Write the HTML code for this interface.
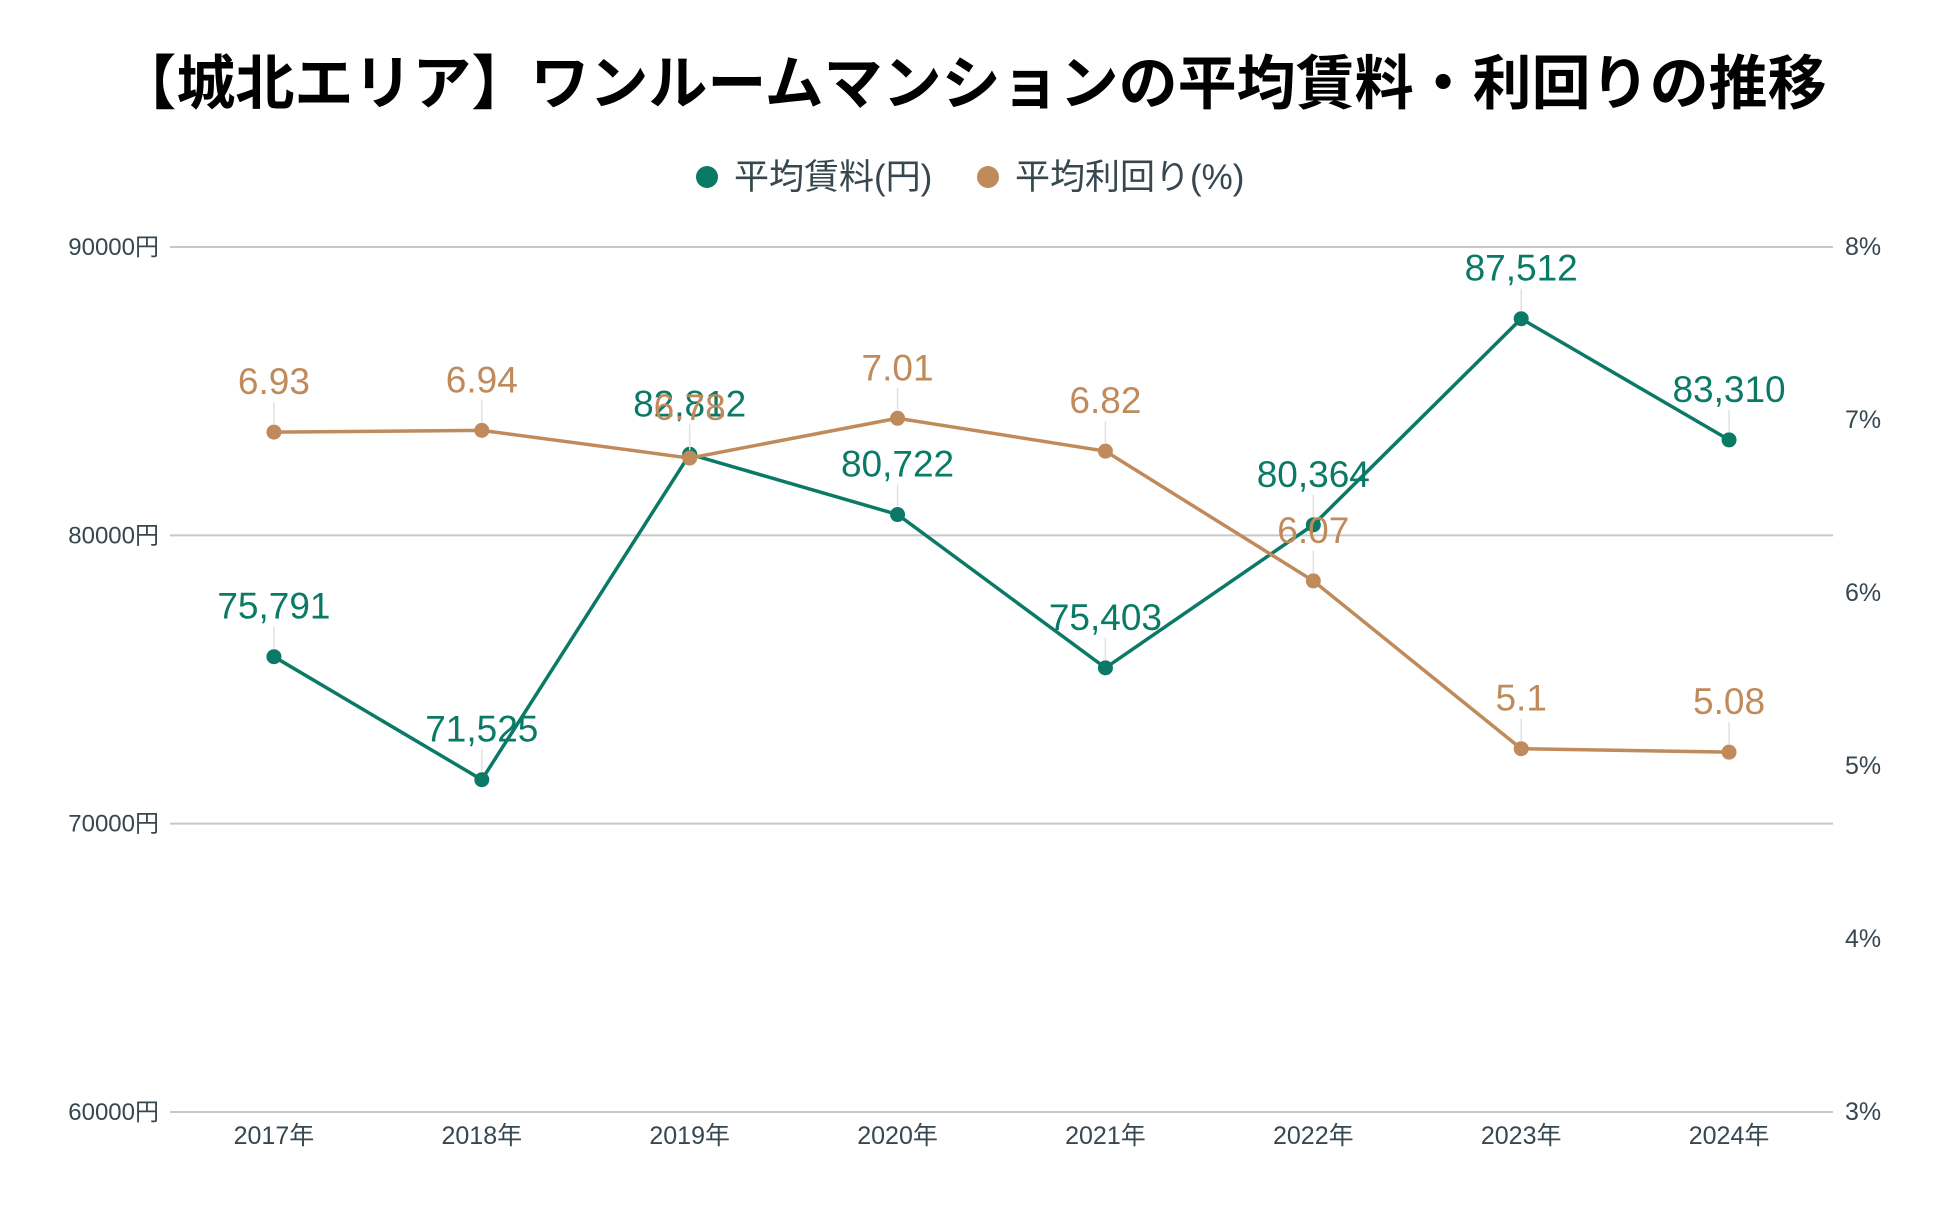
<!DOCTYPE html>
<html><head><meta charset="utf-8"><style>
body{margin:0;background:#fff;}
svg{display:block;font-family:"Liberation Sans","Noto Sans CJK JP",sans-serif;}
</style></head><body>
<svg id="chart" width="1950" height="1207" viewBox="0 0 1950 1207" xmlns="http://www.w3.org/2000/svg">
<text x="972" y="104" text-anchor="middle" font-size="59" font-weight="bold" fill="#000">【城北エリア】ワンルームマンションの平均賃料・利回りの推移</text>
<g>
<circle cx="707" cy="177" r="11" fill="#0a7a66"/>
<text x="734" y="189" font-size="35" fill="#37474f">平均賃料(円)</text>
<circle cx="988" cy="177" r="11" fill="#c08a5a"/>
<text x="1015" y="189" font-size="35" fill="#37474f">平均利回り(%)</text>
</g>
<g id="grid"></g>
<g id="axes"></g>
<g id="series"></g>
</svg>
<script>
const categories=["2017年","2018年","2019年","2020年","2021年","2022年","2023年","2024年"];
const rent=[75791,71525,82812,80722,75403,80364,87512,83310];
const rentLabels=["75,791","71,525","82,812","80,722","75,403","80,364","87,512","83,310"];
const yieldVals=[6.93,6.94,6.78,7.01,6.82,6.07,5.1,5.08];
const yieldLabels=["6.93","6.94","6.78","7.01","6.82","6.07","5.1","5.08"];
const leftTicks=[60000,70000,80000,90000];
const rightTicks=[3,4,5,6,7,8];

const NS="http://www.w3.org/2000/svg";
const X0=170,X1=1833,Y0=1112,Y1=247;
function xs(i){return X0+(X1-X0)/categories.length*(i+0.5);}
function yl(v){return Y0-(v-60000)/30000*(Y0-Y1);}
function yr(v){return Y0-(v-3)/5*(Y0-Y1);}
function mk(tag,attrs,parent){const e=document.createElementNS(NS,tag);for(const k in attrs)e.setAttribute(k,attrs[k]);parent.appendChild(e);return e;}
const grid=document.getElementById('grid'),axes=document.getElementById('axes'),series=document.getElementById('series');
leftTicks.forEach(t=>{
  const l=mk('line',{x1:X0,x2:X1,y1:yl(t),y2:yl(t),stroke:'#c8c8c8','stroke-width':2},grid);
  
  
  const tx=mk('text',{x:159,y:yl(t)+8,'text-anchor':'end','font-size':24,fill:'#37474f'},axes);
  tx.textContent=t+'円';
  
  
});
rightTicks.forEach(t=>{
  const tx=mk('text',{x:1845,y:yr(t)+8,'font-size':25,fill:'#37474f'},axes);
  tx.textContent=t+'%';
  
  
});
categories.forEach((c,i)=>{
  const tx=mk('text',{x:xs(i),y:1144,'text-anchor':'middle','font-size':25,fill:'#37474f'},axes);
  tx.textContent=c;
  
  
});
function drawSeries(vals,labels,yf,color,labColor,name){
  const pts=vals.map((v,i)=>xs(i)+','+yf(v)).join(' ');
  const pl=mk('polyline',{points:pts,fill:'none',stroke:color,'stroke-width':3.5},series);
  
  
  vals.forEach((v,i)=>{
    const y=yf(v);
    const ld=mk('line',{x1:xs(i),x2:xs(i),y1:y-8,y2:y-30,stroke:'#e0e0e0','stroke-width':1.5},series);
    
    
    const c=mk('circle',{cx:xs(i),cy:y,r:7.5,fill:color},series);
    
    
    const t=mk('text',{x:xs(i),y:y-38,'text-anchor':'middle','font-size':37,fill:labColor},series);
    t.textContent=labels[i];
    
    
  });
}
drawSeries(rent,rentLabels,yl,'#0a7a66','#0a7a66','rent');
drawSeries(yieldVals,yieldLabels,yr,'#c08a5a','#c08a5a','yield');
</script>
</body></html>
